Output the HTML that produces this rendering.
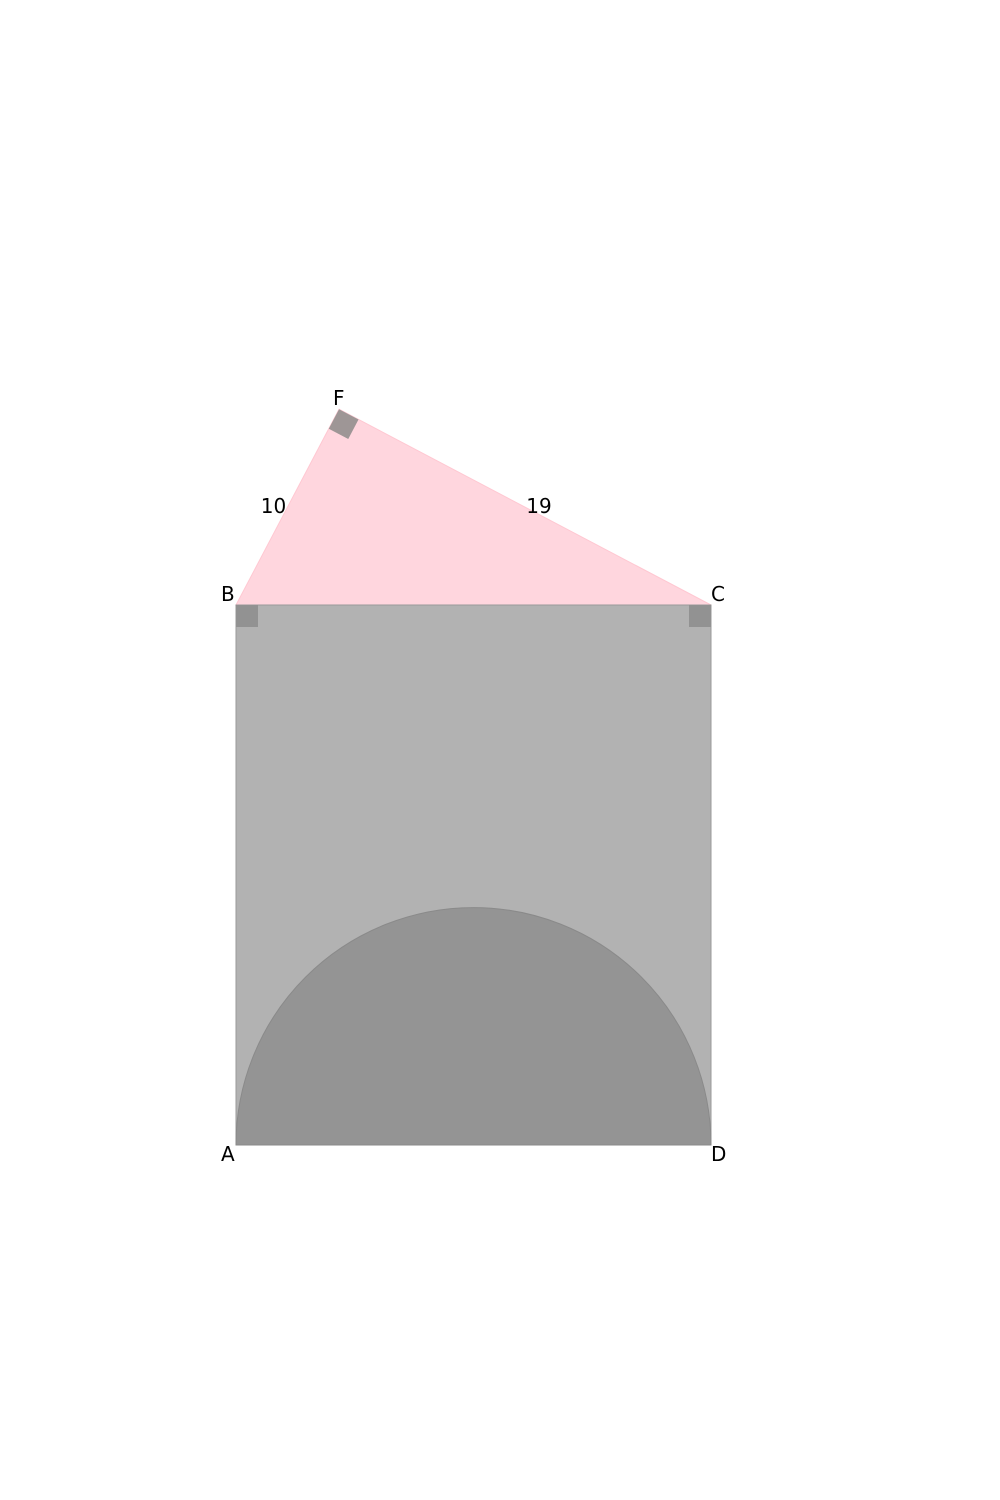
<!DOCTYPE html>
<html><head><meta charset="utf-8"><style>body{margin:0;background:#fff}svg{display:block}text{font-family:"DejaVu Sans","Liberation Sans",sans-serif;font-size:20px;fill:#000}</style></head>
<body>
<svg id="fig" width="1000" height="1500">
<g id="g"></g>
</svg>
<script>
const sideLengths=[10,19];
const pointNames=["A","B","C","D","F"];
const NS="http://www.w3.org/2000/svg";
const g=document.getElementById('g');
function mk(tag,attrs,name){const e=document.createElementNS(NS,tag);for(const k in attrs)e.setAttribute(k,attrs[k]);


g.appendChild(e);return e;}
const B=[236,605],C=[711,605],A=[236,1145],D=[711,1145];
const bc=Math.hypot(sideLengths[0],sideLengths[1]);
const s=(C[0]-B[0])/bc;
const ang=Math.acos(sideLengths[0]/bc);
const bf=sideLengths[0]*s;
const F=[B[0]+bf*Math.cos(ang),B[1]-bf*Math.sin(ang)];
mk('polygon',{points:`${B} ${F} ${C}`,fill:'#ffd6de',stroke:'#ffc8d2','stroke-width':1},'triangle-bfc');
mk('rect',{x:A[0],y:B[1],width:D[0]-A[0],height:A[1]-B[1],fill:'#b2b2b2',stroke:'#999','stroke-width':1},'rectangle-abcd');
const r=(D[0]-A[0])/2,cx=A[0]+r;
mk('path',{d:`M${A[0]},${A[1]} A${r},${r} 0 0 1 ${D[0]},${D[1]} Z`,fill:'#949494',stroke:'#8a8a8a','stroke-width':1},'semicircle');
mk('rect',{x:B[0],y:B[1],width:22,height:22,fill:'#929292'},'right-angle-b');
mk('rect',{x:C[0]-22,y:C[1],width:22,height:22,fill:'#929292'},'right-angle-c');
const uB=[(B[0]-F[0])/bf,(B[1]-F[1])/bf];
const cf=sideLengths[1]*s;
const uC=[(C[0]-F[0])/cf,(C[1]-F[1])/cf];
const m=22;
mk('polygon',{points:`${F} ${F[0]+m*uB[0]},${F[1]+m*uB[1]} ${F[0]+m*uB[0]+m*uC[0]},${F[1]+m*uB[1]+m*uC[1]} ${F[0]+m*uC[0]},${F[1]+m*uC[1]}`,fill:'#9e9696'},'right-angle-f');
const labs=[[A[0]-15,A[1]+16],[B[0]-15,B[1]-4],[C[0]+0,C[1]-4],[D[0]+0,D[1]+16],[F[0]-6,F[1]-4]];
pointNames.forEach((n,i)=>{const t=mk('text',{x:labs[i][0],y:labs[i][1]},'label-'+n.toLowerCase());t.textContent=n;});
const t1=mk('text',{x:(B[0]+F[0])/2-14,y:(B[1]+F[1])/2+6,'text-anchor':'middle'},'side-bf-length');t1.textContent=sideLengths[0];
const t2=mk('text',{x:(C[0]+F[0])/2+14,y:(C[1]+F[1])/2+6,'text-anchor':'middle'},'side-cf-length');t2.textContent=sideLengths[1];
</script>
</body></html>
